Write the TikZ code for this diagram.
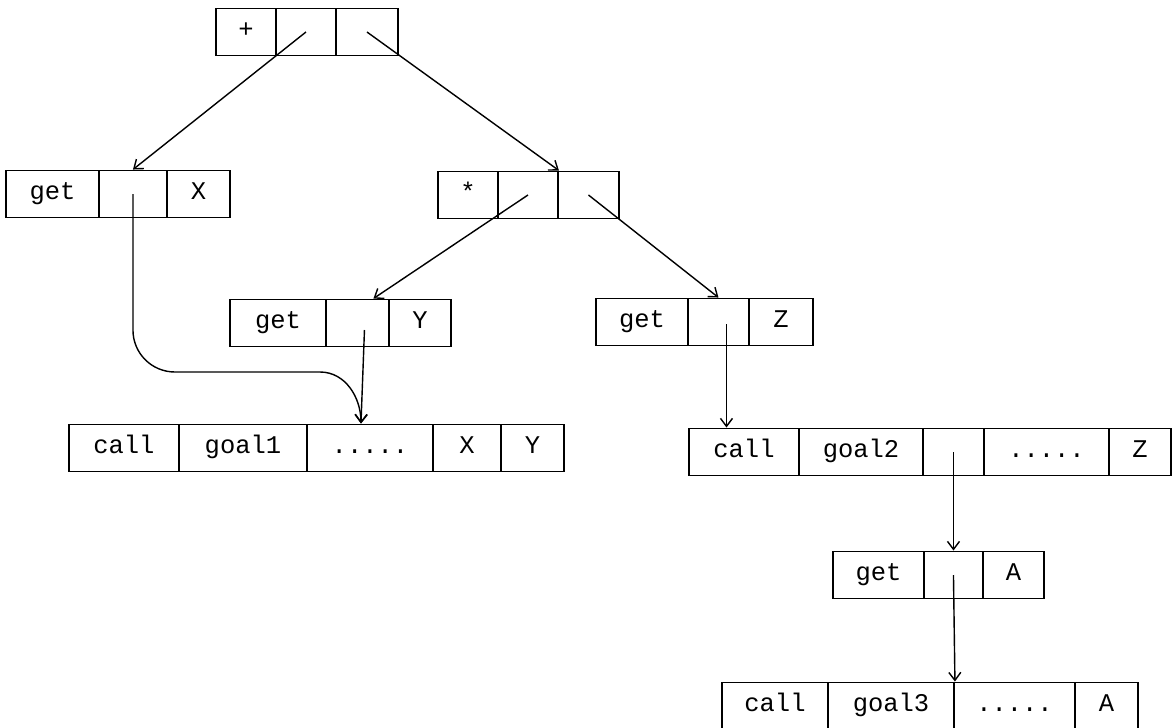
\documentclass[tikz,border=0pt]{standalone}
\usepackage{fontspec}
\setmonofont{Liberation Mono}
\usetikzlibrary{arrows.meta}
\newlength{\px}
\setlength{\px}{0.02cm}
\newcommand{\more}{.....}

\begin{document}
\begin{tikzpicture}[x=0.02cm, y=-0.02cm,
    every node/.style={font=\ttfamily\fontsize{14.5}{16}\selectfont},
    cell/.style={draw, line width=1.1pt, inner sep=0pt, text height=9pt, text depth=2.5pt,
        minimum height=47*\px, anchor=west},
    ptr/.style={line width=0.8pt, -{Straight Barb[length=1.6mm, width=2.4mm]}}]
    \useasboundingbox (0,0) rectangle (1173,727);

    % top record
    \foreach \x/\w/\t/\n in {215/60/+/plus1, 275/60/{}/plus2, 335/62/{}/plus3}
        \node[cell, minimum width=\w*\px] (\n) at (\x,32) {\t};

    % second level
    \foreach \x/\w/\t/\n in {5/93/get/getx1, 98/68/{}/getx2, 166/63/X/getx3}
        \node[cell, minimum width=\w*\px] (\n) at (\x,194) {\t};
    \foreach \x/\w/\t/\n in {437/60/*/times1, 497/60/{}/times2, 557/61/{}/times3}
        \node[cell, minimum width=\w*\px] (\n) at (\x,195) {\t};

    % third level
    \foreach \x/\w/\t/\n in {229/96/get/gety1, 325/63/{}/gety2, 388/62/Y/gety3}
        \node[cell, minimum width=\w*\px] (\n) at (\x,323) {\t};
    \foreach \x/\w/\t/\n in {595/92/get/getz1, 687/61/{}/getz2, 748/64/Z/getz3}
        \node[cell, minimum width=\w*\px] (\n) at (\x,322) {\t};

    % goal records
    \foreach \x/\w/\t/\n in {68/110/call/callone1, 178/128/goal1/callone2,
            306/126/\more/callone3, 432/68/X/callone4, 500/63/Y/callone5}
        \node[cell, minimum width=\w*\px] (\n) at (\x,448) {\t};
    \foreach \x/\w/\t/\n in {688/110/call/calltwo1, 798/124/goal2/calltwo2,
            922/61/{}/calltwo3, 983/125/\more/calltwo4, 1108/62/Z/calltwo5}
        \node[cell, minimum width=\w*\px] (\n) at (\x,452) {\t};
    \foreach \x/\w/\t/\n in {832/91/get/geta1, 923/59/{}/geta2, 982/61/A/geta3}
        \node[cell, minimum width=\w*\px] (\n) at (\x,575) {\t};
    \foreach \x/\w/\t/\n in {721/106/call/callthree1, 827/126/goal3/callthree2,
            953/121/\more/callthree3, 1074/63/A/callthree4}
        \node[cell, minimum width=\w*\px] (\n) at (\x,706) {\t};

    % pointers
    \coordinate (m) at ([xshift=-0.18cm]callone3.north);
    \draw[ptr] (plus2.center) -- (getx2.north);
    \draw[ptr] (plus3.center) -- (times2.north east);
    \draw[ptr] (times2.center) -- ([xshift=0.32cm]gety2.north);
    \draw[ptr] (times3.center) -- (getz2.north);
    \draw[ptr] (getx2.center) -- ++(0,136) to[out=-90, in=180] ++(42,42)
        -- ++(145,0) to[out=0, in=90] (m);
    \draw[ptr] ([xshift=0.14cm, yshift=-0.14cm]gety2.center) -- (m);
    \draw[ptr] ([xshift=0.16cm, yshift=-0.04cm]getz2.center)
        -- ([xshift=0.16cm]getz2.center |- calltwo1.north);
    \draw[ptr] (calltwo3.center) -- (geta2.north);
    \draw[ptr] (geta2.center) -- (callthree2.north east);
\end{tikzpicture}
\end{document}
